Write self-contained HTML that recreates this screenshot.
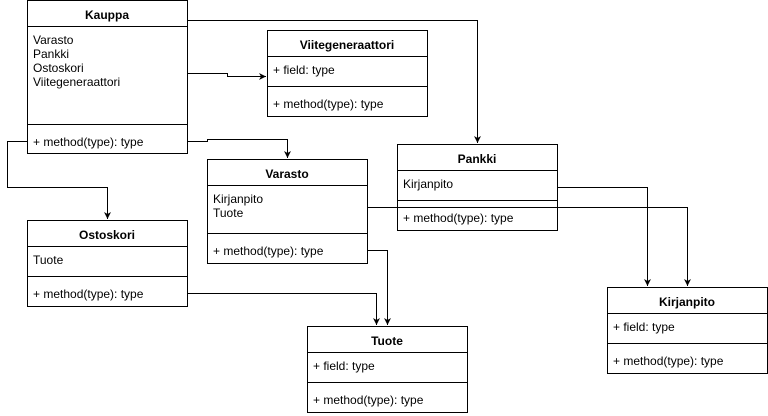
<!DOCTYPE html>
<html><head><meta charset="utf-8"><style>
html,body{margin:0;padding:0;background:#fff;width:768px;height:416px;overflow:hidden}
text{font-family:"Liberation Sans",Arial,sans-serif;font-size:12px;fill:#000}
.t{font-weight:bold;text-anchor:middle}
</style></head><body>
<svg width="768" height="416" xmlns="http://www.w3.org/2000/svg">
<defs><marker id="a" markerWidth="8" markerHeight="8" refX="7" refY="4" orient="auto" markerUnits="userSpaceOnUse"><path d="M0,0.5 L7,4 L0,7.5 L2,4 z" fill="#000"/></marker></defs>
<g fill="none" stroke="#000" stroke-width="1">
<path d="M187.5,20.5 H477.5 V143" marker-end="url(#a)"/>
<path d="M187.5,73.5 H227.5 V76.5 H266" marker-end="url(#a)"/>
<path d="M187.5,141.5 H207.5 V139.5 H287.5 V158" marker-end="url(#a)"/>
<path d="M27.5,141.5 H7.5 V187.5 H107.5 V219" marker-end="url(#a)"/>
<path d="M557.5,187.5 H647.5 V286" marker-end="url(#a)"/>
<path d="M367.5,250.5 H387.5 V325" marker-end="url(#a)"/>
<path d="M187.5,293.5 H376.5 V325" marker-end="url(#a)"/>
</g>
<g fill="#fff" stroke="#000">
<rect x="27.5" y="0.5" width="160" height="153"/><path d="M27.5,26.5H187.5M27.5,124.5H187.5"/>
<rect x="267.5" y="30.5" width="160" height="86"/><path d="M267.5,56.5H427.5M267.5,86.5H427.5"/>
<rect x="207.5" y="159.5" width="160" height="104"/><path d="M207.5,185.5H367.5M207.5,233.5H367.5"/>
<rect x="397.5" y="144.5" width="160" height="86"/><path d="M397.5,170.5H557.5M397.5,200.5H557.5"/>
<rect x="27.5" y="220.5" width="160" height="86"/><path d="M27.5,246.5H187.5M27.5,276.5H187.5"/>
<rect x="307.5" y="326.5" width="160" height="86"/><path d="M307.5,352.5H467.5M307.5,382.5H467.5"/>
<rect x="607.5" y="287.5" width="160" height="86"/><path d="M607.5,313.5H767.5M607.5,343.5H767.5"/>
</g>
<path d="M367.5,207.5 H687.5 V286" fill="none" stroke="#000" marker-end="url(#a)"/>
<text class="t" x="107" y="19">Kauppa</text>
<text x="33" y="44">Varasto</text><text x="33" y="58">Pankki</text><text x="33" y="72">Ostoskori</text><text x="33" y="86">Viitegeneraattori</text>
<text x="33" y="146">+ method(type): type</text>
<text class="t" x="347" y="49">Viitegeneraattori</text>
<text x="273" y="74">+ field: type</text><text x="273" y="108">+ method(type): type</text>
<text class="t" x="287" y="178">Varasto</text>
<text x="213" y="203">Kirjanpito</text><text x="213" y="217">Tuote</text>
<text x="213" y="255">+ method(type): type</text>
<text class="t" x="477" y="163">Pankki</text>
<text x="403" y="188">Kirjanpito</text><text x="403" y="222">+ method(type): type</text>
<text class="t" x="107" y="239">Ostoskori</text>
<text x="33" y="264">Tuote</text><text x="33" y="298">+ method(type): type</text>
<text class="t" x="387" y="345">Tuote</text>
<text x="313" y="370">+ field: type</text><text x="313" y="404">+ method(type): type</text>
<text class="t" x="687" y="306">Kirjanpito</text>
<text x="613" y="331">+ field: type</text><text x="613" y="365">+ method(type): type</text>
</svg>
</body></html>
